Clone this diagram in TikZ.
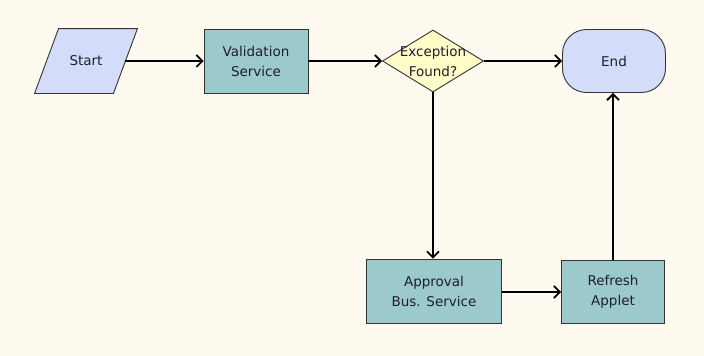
\documentclass[tikz,border=0pt]{standalone}
\usepackage{fontspec}
\setmainfont{DejaVu Sans}
\usetikzlibrary{shapes.geometric,arrows.meta,calc,backgrounds}
\definecolor{paper}{HTML}{FFFAEF}
\definecolor{lavender}{HTML}{D3DCF8}
\definecolor{teal}{HTML}{9CCACC}
\definecolor{pale}{HTML}{FFFDC8}
\definecolor{ink}{HTML}{1E1E2E}
\tikzset{
  shapebase/.style={draw=black!80, line width=0.9pt, text=ink, align=center,
    font=\fontsize{13.5}{20}\selectfont, inner sep=0pt},
  taskbox/.style={shapebase, rectangle, fill=teal},
  iotext/.style={shapebase, rectangle, draw=none},
  ioframe/.style={draw=black!80, line width=0.9pt, fill=lavender},
  decision/.style={shapebase, diamond, fill=pale},
  terminal/.style={shapebase, rectangle, rounded corners=24pt, fill=lavender},
  flow/.style={line width=1.8pt, -{Straight Barb[length=6pt,width=12pt,line width=1.8pt]}}
}
\begin{document}
\begin{tikzpicture}[x=1pt,y=-1pt]
  \useasboundingbox (0,0) rectangle (704,356);

  \node[iotext, minimum width=78pt, minimum height=64pt] (start) at (86,61) {Start};
  \node[taskbox, minimum width=104pt, minimum height=64pt] (valid) at (256,61) {Validation\\Service};
  \node[decision, minimum width=101pt, minimum height=62pt,
        label={[shapebase, draw=none, fill=none]center:Exception\\Found?}] (exc) at (433,61) {};
  \node[terminal, minimum width=103pt, minimum height=63pt] (end) at (614,61) {End};
  \node[taskbox, minimum width=135pt, minimum height=64pt] (appr) at (434,291) {Approval\\Bus. Service};
  \node[taskbox, minimum width=103pt, minimum height=63pt] (refr) at (613,292) {Refresh\\Applet};

  % paper and the slanted input/output frame sit behind the nodes
  \begin{scope}[on background layer]
    \fill[paper] (0,0) rectangle (704,356);
    \path[ioframe] ($(start.north west)+(12,0)$) -- ($(start.north east)+(12,0)$)
      -- ($(start.south east)+(-12,0)$) -- ($(start.south west)+(-12,0)$) -- cycle;
  \end{scope}

  \draw[flow] (start) -- (valid);
  \draw[flow] (valid) -- (exc);
  \draw[flow] (exc) -- (end);
  \draw[flow] (exc.south) -- (exc.south |- appr.north);
  \draw[flow] (appr.east |- refr) -- (refr.west);
  \draw[flow] (refr.north) -- (refr.north |- end.south);
\end{tikzpicture}
\end{document}
